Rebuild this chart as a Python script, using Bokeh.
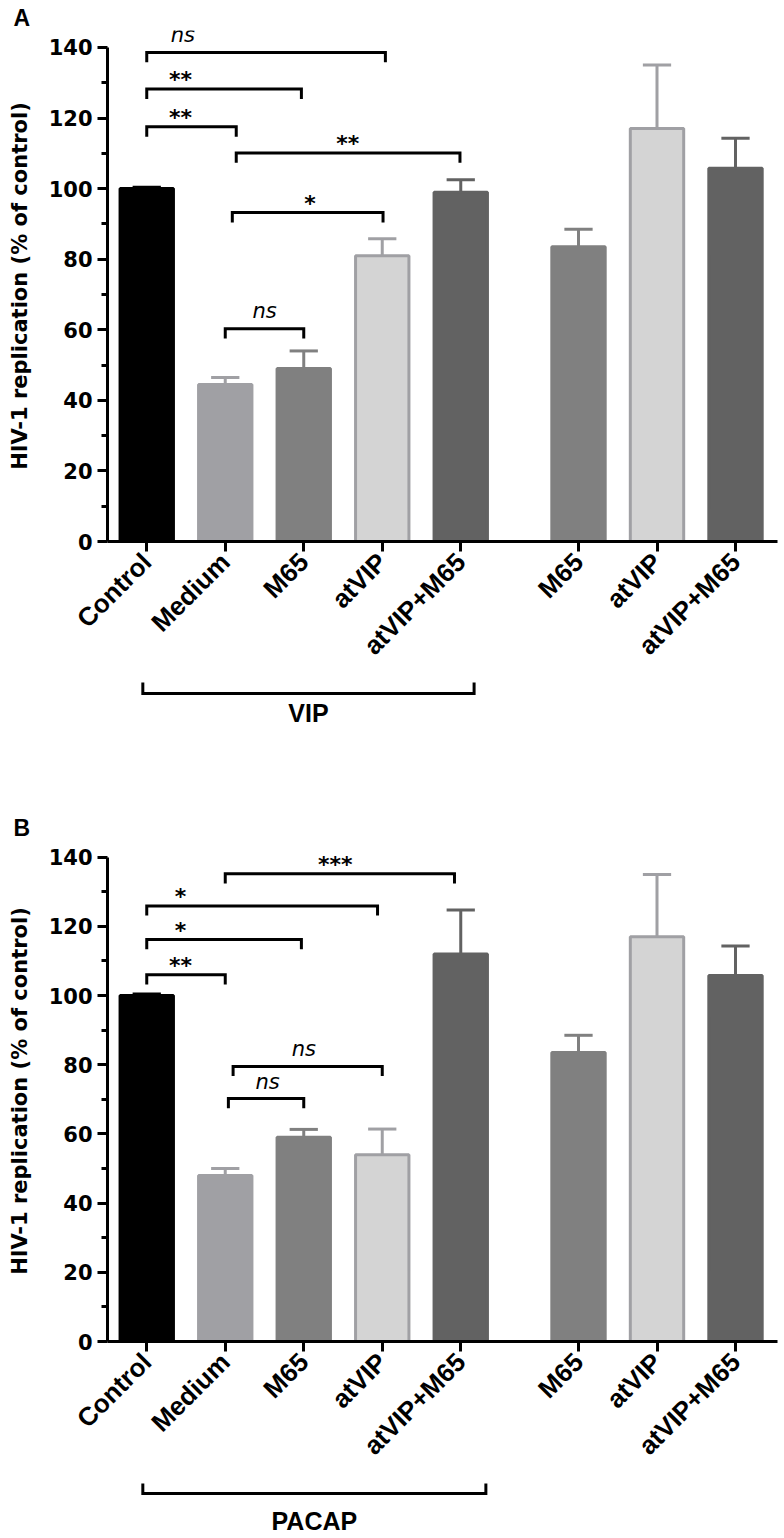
import math
from bokeh.plotting import figure
from bokeh.models import Range1d, FixedTicker, ColumnDataSource
from bokeh.layouts import column
from bokeh.embed import file_html
from bokeh.resources import INLINE
from bokeh.core.properties import value

# ---------------- data ----------------
categories = ["Control", "Medium", "M65", "atVIP", "atVIP+M65", "M65", "atVIP", "atVIP+M65"]
positions = [0, 1, 2, 3, 4, 5.5, 6.5, 7.5]
fill_colors = ["#000000", "#A0A0A4", "#808080", "#D4D4D4", "#626262", "#808080", "#D4D4D4", "#626262"]
line_colors = ["#000000", "#A0A0A4", "#808080", "#A0A0A4", "#626262", "#808080", "#A0A0A4", "#626262"]

vip_means = [100, 44.5, 49, 81, 99, 83.5, 117, 105.8]
vip_err = [0.4, 2, 5, 4.8, 3.5, 5, 18, 8.5]
pacap_means = [100, 48, 59, 54, 112, 83.5, 117, 105.8]
pacap_err = [0.4, 2, 2.3, 7.4, 12.7, 5, 18, 8.5]

y_ticks = [0, 20, 40, 60, 80, 100, 120, 140]
y_minor = [10, 30, 50, 70, 90, 110, 130]

# significance brackets (x in category units, y in % units)
vip_br_x1 = [0, 0, 0, 1.14, 1.09, 1.0]
vip_br_x2 = [1.14, 1.97, 3.04, 3.99, 3.01, 2.0]
vip_br_y = [117.5, 128.2, 138.6, 110.1, 93.2, 60.3]
vip_br_label = ["**", "**", "ns", "**", "*", "ns"]
vip_br_label_x = [0.43, 0.43, 0.46, 2.56, 2.08, 1.5]

pacap_br_x1 = [0, 0, 0, 1.0, 1.1, 1.04]
pacap_br_x2 = [1.0, 1.97, 2.94, 3.92, 3.0, 2.0]
pacap_br_y = [106, 116.2, 125.9, 135.2, 79.5, 70.2]
pacap_br_label = ["**", "*", "*", "***", "ns", "ns"]
pacap_br_label_x = [0.43, 0.43, 0.43, 2.4, 2.0, 1.54]

vip_group = ("VIP", -0.05, 4.17)
pacap_group = ("PACAP", -0.05, 4.32)

# ---------------- style ----------------
FONT = value("DejaVu Sans")
LEG = 2.8
Y_TOP = 144.8
X_RANGE = (-0.5, 8.035)
NS_DY = 4.9
STAR_DY = 2.6


def panel(letter, means, errs, bx1, bx2, by, blab, blabx, top_border, frame_h, xr):
    p = figure(width=784, height=top_border + frame_h + 130, x_range=xr,
               y_range=Range1d(0, Y_TOP), output_backend="svg",
               toolbar_location=None, min_border_left=107, min_border_right=7,
               min_border_top=top_border, min_border_bottom=130, title=letter)
    p.title.text_font = "Liberation Sans"
    p.title.text_font_size = "23px"
    p.title.text_font_style = "bold"
    p.title.text_color = "black"
    p.title.align = "left"
    p.title.offset = -94
    p.title.standoff = 0
    p.outline_line_color = None
    p.grid.visible = False
    p.background_fill_color = "white"
    p.border_fill_color = "white"

    src = ColumnDataSource(dict(
        x=positions, top=means, err_top=[m + e for m, e in zip(means, errs)],
        x0=[x - 0.18 for x in positions], x1=[x + 0.18 for x in positions],
        fill=fill_colors, line=line_colors))
    p.segment(x0="x", y0="top", x1="x", y1="err_top", line_color="line",
              line_width=3, source=src)
    p.segment(x0="x0", y0="err_top", x1="x1", y1="err_top", line_color="line",
              line_width=3, source=src)
    p.vbar(x="x", top="top", width=0.68, fill_color="fill", line_color="line",
           line_width=3, source=src)

    xs = [[a, a, b, b] for a, b in zip(bx1, bx2)]
    ys = [[y - LEG, y, y, y - LEG] for y in by]
    p.multi_line(xs=xs, ys=ys, line_color="black", line_width=3,
                 line_join="miter", line_cap="butt")

    ns_x = [x for x, l in zip(blabx, blab) if l == "ns"]
    ns_y = [y + NS_DY for y, l in zip(by, blab) if l == "ns"]
    st_x = [x for x, l in zip(blabx, blab) if l != "ns"]
    st_y = [y + STAR_DY for y, l in zip(by, blab) if l != "ns"]
    st_t = [l for l in blab if l != "ns"]
    p.text(x=ns_x, y=ns_y, text=["ns"] * len(ns_x), text_font=FONT,
           text_font_style="italic", text_font_size="21px",
           text_align="center", text_baseline="alphabetic", text_color="black")
    p.text(x=st_x, y=st_y, text=st_t, text_font=FONT, text_font_style="bold",
           text_font_size="22px", text_align="center",
           text_baseline="alphabetic", text_color="black")

    # x axis
    xa = p.xaxis[0]
    xa.ticker = FixedTicker(ticks=positions)
    xa.major_label_overrides = {pos: name for pos, name in zip(positions, categories)}
    xa.major_label_orientation = math.pi / 4
    xa.major_label_text_font = "Liberation Sans"
    xa.major_label_text_font_style = "bold"
    xa.major_label_text_font_size = "26px"
    xa.major_label_text_color = "black"
    xa.major_label_standoff = 6
    xa.axis_line_width = 3
    xa.axis_line_color = "black"
    xa.major_tick_line_width = 3
    xa.major_tick_line_color = "black"
    xa.major_tick_out = 10
    xa.major_tick_in = 0
    xa.minor_tick_line_color = None

    # y axis
    ya = p.yaxis[0]
    ya.ticker = FixedTicker(ticks=y_ticks, minor_ticks=y_minor)
    ya.bounds = (0, 140)
    ya.axis_label = "HIV-1 replication (% of control)"
    ya.axis_label_text_font = "DejaVu Sans"
    ya.axis_label_text_font_style = "bold"
    ya.axis_label_text_font_size = "21px"
    ya.axis_label_text_color = "black"
    ya.axis_label_standoff = 14
    ya.major_label_text_font = "DejaVu Sans"
    ya.major_label_text_font_style = "bold"
    ya.major_label_text_font_size = "21px"
    ya.major_label_text_color = "black"
    ya.major_label_standoff = 5
    ya.axis_line_width = 3
    ya.axis_line_color = "black"
    ya.major_tick_line_width = 3
    ya.major_tick_line_color = "black"
    ya.major_tick_out = 10
    ya.major_tick_in = 0
    ya.minor_tick_line_width = 3
    ya.minor_tick_line_color = "black"
    ya.minor_tick_out = 6
    ya.minor_tick_in = 0
    return p


def group_fig(group, h, leg_top, line_y, text_y, xr):
    name, g0, g1 = group
    s = figure(width=784, height=h, x_range=xr, y_range=Range1d(h, 0),
               output_backend="svg", toolbar_location=None,
               min_border_left=107, min_border_right=7, min_border_top=0,
               min_border_bottom=0, x_axis_location=None, y_axis_location=None)
    s.outline_line_color = None
    s.grid.visible = False
    s.multi_line(xs=[[g0, g0, g1, g1]], ys=[[leg_top, line_y, line_y, leg_top]],
                 line_color="black", line_width=3, line_join="miter", line_cap="butt")
    s.text(x=[(g0 + g1) / 2], y=[text_y], text=[name], text_font=value("Liberation Sans"),
           text_font_style="bold", text_font_size="25px", text_align="center",
           text_baseline="middle", text_color="black")
    return s


xr_a = Range1d(*X_RANGE)
xr_b = Range1d(*X_RANGE)
pA = panel("A", vip_means, vip_err, vip_br_x1, vip_br_x2, vip_br_y, vip_br_label,
           vip_br_label_x, 30, 514, xr_a)
sA = group_fig(vip_group, 138, 8, 19, 38, xr_a)
pB = panel("B", pacap_means, pacap_err, pacap_br_x1, pacap_br_x2, pacap_br_y,
           pacap_br_label, pacap_br_label_x, 22, 510, xr_b)
sB = group_fig(pacap_group, 64, 9, 19, 46, xr_b)

layout = column(pA, sA, pB, sB)
open("out.html", "w").write(file_html(layout, INLINE))
